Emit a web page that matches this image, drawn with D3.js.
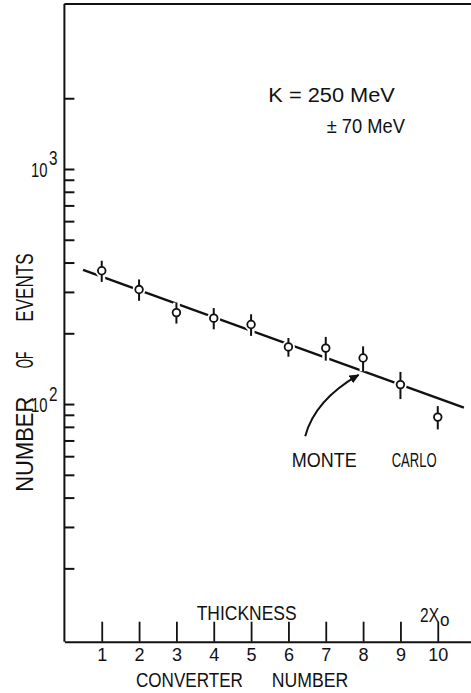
<!DOCTYPE html>
<html>
<head>
<meta charset="utf-8">
<script src="https://cdn.jsdelivr.net/npm/d3@7/dist/d3.min.js"></script>
<style>
  html, body { margin: 0; padding: 0; background: #fff; }
  svg { display: block; }
  text { font-family: "Liberation Sans", Arial, sans-serif; fill: #111; }
</style>
</head>
<body>
<svg id="chart" width="471" height="693"></svg>
<script>
// Converter number (1..10) and measured event counts with statistical errors
const converter = [1, 2, 3, 4, 5, 6, 7, 8, 9, 10];
const events    = [369, 307, 245, 232, 218, 175, 173, 157, 121, 88];
const errors    = [38, 32, 25, 24, 23, 16, 20, 19, 16, 10];

// Monte Carlo expectation (straight line on the log scale)
const mcConverter = [0.5, 10.7];
const mcEvents    = [372, 96.5];

// Axis ticks
const xTicks = [1, 2, 3, 4, 5, 6, 7, 8, 9, 10];
const yTicks = [20, 30, 40, 50, 60, 70, 80, 90, 100, 200, 300, 400, 500, 600, 700, 800, 900, 1000, 2000];
const yLabels = [100, 1000];

// Arrow pointing from the "MONTE CARLO" label to the curve (data coordinates)
const arrowPath = [[6.45, 73], [6.71, 104], [7.88, 133]];

const W = 471, H = 693;
const svg = d3.select("#chart");

const x = d3.scaleLinear().domain([0, 10.89]).range([64.4, 471]);
const y = d3.scaleLog().domain([9.75, 5000]).range([641.7, 4.7]);

const ink = "#111";

// Condensed lettering: draw the text, then squeeze it horizontally to a target width
function label(str, x0, yb, len, size, rotate) {
  const t = svg.append("text")
    .attr("x", 0).attr("y", 0)
    .attr("font-size", size)
    .text(str);
  const w = t.node().getComputedTextLength();
  const rot = rotate ? ` rotate(${rotate})` : "";
  t.attr("transform", `translate(${x0},${yb})${rot} scale(${len / w},1)`);
  return t;
}

// Top frame line
svg.append("line")
  .attr("x1", x(0)).attr("x2", W)
  .attr("y1", 4).attr("y2", 4)
  .attr("stroke", ink).attr("stroke-width", 2);

// Left (log) axis with inward ticks
const yAxis = svg.append("g")
  .attr("transform", `translate(${x(0)},0)`)
  .call(d3.axisLeft(y).tickValues(yTicks).tickSize(-10).tickSizeOuter(0).tickFormat(""));
yAxis.select(".domain").attr("stroke", ink).attr("stroke-width", 2)
  .attr("d", `M0,${y.range()[0]}V4`);
yAxis.selectAll(".tick line").attr("stroke", ink).attr("stroke-width", 2);

// Decade labels 10^n
yLabels.forEach(v => {
  const e = Math.round(Math.log10(v));
  label("10", 31, y(v) + 7.7, 16.5, 20);
  label(String(e), 49, y(v) - 3.5, 8.5, 20);
});

// Bottom axis with inward ticks and converter numbers
const xAxis = svg.append("g")
  .attr("transform", `translate(0,${y.range()[0]})`)
  .call(d3.axisBottom(x).tickValues(xTicks).tickSize(-20).tickSizeOuter(0).tickPadding(7));
xAxis.select(".domain").attr("stroke", ink).attr("stroke-width", 2);
xAxis.selectAll(".tick line").attr("stroke", ink).attr("stroke-width", 1.8);
xAxis.selectAll(".tick text")
  .attr("font-size", 18)
  .attr("font-family", "Liberation Sans, Arial, sans-serif")
  .attr("fill", ink);

// Monte Carlo line
const line = d3.line().x(d => x(d[0])).y(d => y(d[1]));
svg.append("path")
  .datum(d3.zip(mcConverter, mcEvents))
  .attr("d", line)
  .attr("fill", "none")
  .attr("stroke", ink)
  .attr("stroke-width", 2.4);

// Data points: white halo first so the line is broken around each point
const pts = converter.map((c, i) => ({ c, v: events[i], e: errors[i] }));
const halo = svg.append("g");
halo.selectAll("line").data(pts).join("line")
  .attr("x1", d => x(d.c)).attr("x2", d => x(d.c))
  .attr("y1", d => y(d.v + d.e)).attr("y2", d => y(d.v - d.e))
  .attr("stroke", "#fff").attr("stroke-width", 7);
halo.selectAll("circle").data(pts).join("circle")
  .attr("cx", d => x(d.c)).attr("cy", d => y(d.v))
  .attr("r", 6.5).attr("fill", "#fff");

const marks = svg.append("g");
marks.selectAll("line").data(pts).join("line")
  .attr("x1", d => x(d.c)).attr("x2", d => x(d.c))
  .attr("y1", d => y(d.v + d.e)).attr("y2", d => y(d.v - d.e))
  .attr("stroke", ink).attr("stroke-width", 2);
marks.selectAll("circle").data(pts).join("circle")
  .attr("cx", d => x(d.c)).attr("cy", d => y(d.v))
  .attr("r", 3.8).attr("fill", "#fff")
  .attr("stroke", ink).attr("stroke-width", 1.8);

// Curved arrow to the Monte Carlo line
svg.append("defs").append("marker")
  .attr("id", "head")
  .attr("viewBox", "0 0 10 10")
  .attr("refX", 9).attr("refY", 5)
  .attr("markerWidth", 10).attr("markerHeight", 10)
  .attr("markerUnits", "userSpaceOnUse")
  .attr("orient", "auto")
  .append("path").attr("d", "M0,0.5L10,5L0,9.5Z").attr("fill", ink);

const ap = d3.path();
ap.moveTo(x(arrowPath[0][0]), y(arrowPath[0][1]));
ap.quadraticCurveTo(x(arrowPath[1][0]), y(arrowPath[1][1]), x(arrowPath[2][0]), y(arrowPath[2][1]));
svg.append("path")
  .attr("d", ap.toString())
  .attr("fill", "none").attr("stroke", ink).attr("stroke-width", 2)
  .attr("marker-end", "url(#head)");

// Annotations and axis titles
label("MONTE", 291.7, 466.7, 65, 21);
label("CARLO", 391.7, 466.7, 45, 21);

label("K = 250 MeV", 268.3, 101.7, 126.7, 21);
label("± 70 MeV", 326.7, 133.3, 78.3, 21);

label("THICKNESS", 196.7, 620, 100, 21);
label("2X", 420, 621.7, 19, 21);
label("o", 440, 625.5, 9.5, 19);

label("CONVERTER", 136, 686.7, 107, 21);
label("NUMBER", 271.7, 686.7, 76.6, 21);

// Rotated y-axis title, one word at a time
[["NUMBER", 491.7, 95], ["OF", 368.3, 16.6], ["EVENTS", 321.7, 68.4]].forEach(([w, start, len]) => {
  label(w, 33, start, len, 24, -90);
});
</script>
</body>
</html>
